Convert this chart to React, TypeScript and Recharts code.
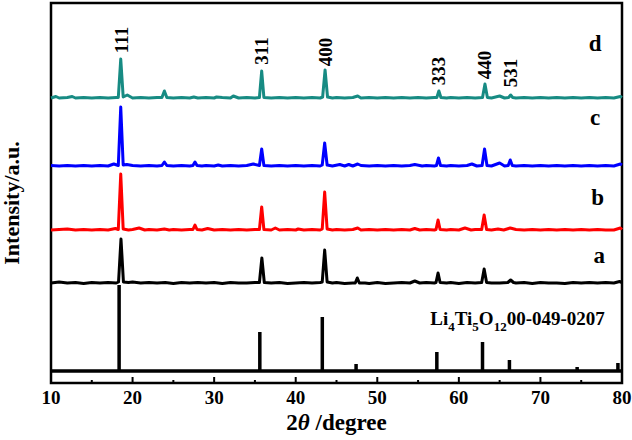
import React from "react";
import {
  LineChart,
  Line,
  XAxis,
  YAxis,
  ReferenceArea,
  ReferenceDot,
} from "recharts";

const FONT = '"Liberation Serif", "Times New Roman", serif';

// x ticks (major every 10, minor every 5)
const X_TICKS = [10, 15, 20, 25, 30, 35, 40, 45, 50, 55, 60, 65, 70, 75, 80];

// vertical offsets of the stacked patterns
const OFFSET_REF = 12;
const OFFSET_A = 99;
const OFFSET_B = 152;
const OFFSET_C = 216;
const OFFSET_D = 284;

// Li4Ti5O12 standard card 00-049-0207: [2theta, relative height]
const REF_STICKS: [number, number][] = [
  [18.35, 86], [35.6, 39], [43.26, 54], [47.4, 7], [57.3, 19],
  [62.9, 29], [66.2, 11], [74.5, 4], [79.5, 8],
];

// sample a
const SERIES_A: [number, number][] = [
  [10, 1], [11, 2], [12, 1], [13, 1.5], [14, 0.5], [15, 1.5], [16, 1], [17, 1.5], [18, 1],
  [18.28, 2], [18.58, 45], [18.88, 2], [19.5, 1.5], [20, 2], [21, 1], [22, 1.5], [23, 1],
  [24, 1.5], [25, 0.5], [26, 1.5], [27, 1], [28, 1.5], [29, 1], [30, 1.5], [31, 0.5],
  [32, 1.5], [33, 1], [34, 1], [35, 1.5], [35.55, 1.5], [35.85, 26], [36.15, 1.5], [37, 1],
  [38, 1.5], [39, 0.5], [40, 1], [41, 1.5], [42, 1], [43, 1.5], [43.25, 2], [43.55, 34],
  [43.85, 2], [44.5, 1], [45, 1.5], [46, 0.5], [47, 1], [47.3, 1], [47.55, 6], [47.8, 1],
  [48.5, 1], [49, 0.5], [50, 1.5], [51, 0.5], [52, 1], [53, 1.5], [54, 1], [54.6, 3],
  [55.2, 1], [56, 1.5], [57, 1], [57.2, 1.5], [57.45, 11], [57.7, 1.5], [58.5, 1], [59, 1.5],
  [60, 0.5], [61, 1.5], [62, 1], [62.8, 1.5], [63.1, 15], [63.4, 1.5], [64, 1], [65, 1],
  [66, 1.5], [66.35, 4], [66.7, 1.5], [67, 1], [68, 1.5], [69, 0.5], [70, 1.5], [71, 1],
  [72, 1], [73, 0.5], [74, 1.5], [75, 1], [76, 1.5], [77, 1], [78, 1.5], [79, 1],
  [79.7, 2.5], [80, 1.5],
];

// sample b
const SERIES_B: [number, number][] = [
  [10, 1], [11, 1.5], [12, 2], [13, 1], [14, 1.5], [15, 1], [16, 1.5], [17, 1], [17.9, 2.5],
  [18.25, 1.5], [18.55, 57], [18.85, 2], [19.5, 1], [20, 1.5], [20.8, 3], [21.5, 1], [22, 1.5],
  [23, 1], [23.9, 2], [24.5, 1], [25, 1.5], [26, 1], [27, 1.5], [27.4, 1.5], [27.65, 6],
  [27.9, 1.5], [28.5, 1], [29.2, 2.5], [30, 1], [31, 1.5], [32, 1], [33, 1.5], [34, 1],
  [35, 1.5], [35.55, 1.5], [35.83, 24], [36.1, 1.5], [37, 1], [37.5, 3], [38, 1], [39, 1.5],
  [40, 1], [40.3, 2], [41, 1], [42, 1.5], [43, 1], [43.25, 2], [43.55, 39], [43.85, 2],
  [44.5, 1], [45, 1.5], [46, 1], [47, 1.5], [47.6, 3], [48, 1], [49, 1.5], [50, 1], [51, 1.5],
  [52, 1], [53, 1.5], [54, 1], [54.6, 2.5], [55.2, 1], [56, 1.5], [57, 1], [57.2, 1.5],
  [57.45, 11], [57.7, 1.5], [58.5, 1], [59, 1.5], [60, 1], [60.75, 3], [61.5, 1], [62, 1.5],
  [62.8, 1.5], [63.1, 16], [63.4, 1.5], [64, 1], [64.8, 2], [65.5, 1], [66.3, 3], [67, 1.5],
  [68, 1], [69, 1.5], [70, 1], [71, 1.5], [72, 1], [73, 1.5], [74, 1], [75, 1.5], [76, 1],
  [77, 1.5], [78, 1], [79, 1], [79.8, 3], [80, 1.5],
];

// sample c
const SERIES_C: [number, number][] = [
  [10, 1.5], [11, 1], [12, 1.5], [13, 1], [14, 1.5], [15, 1], [16, 1.5], [17, 1], [17.7, 3],
  [18.25, 1.5], [18.55, 60], [18.85, 2], [19.3, 2.5], [20, 1.5], [21, 1], [22, 1.5], [23, 1],
  [23.6, 1.5], [23.9, 5], [24.2, 1.5], [25, 1], [26, 1.5], [27, 1], [27.4, 1.5], [27.65, 5],
  [27.9, 1.5], [28.5, 1], [29, 1.5], [30, 1], [30.5, 2], [31, 1], [32, 1.5], [33, 1],
  [34, 1.5], [34.8, 3], [35.55, 1.5], [35.83, 18], [36.1, 1.5], [37, 1], [38, 1.5], [39, 1],
  [40, 1.5], [41, 1], [42, 1.5], [43, 1], [43.25, 2], [43.55, 24], [43.85, 2], [44.5, 1],
  [45.4, 2.5], [46, 1], [46.5, 2.5], [47, 1], [47.6, 3], [48, 1.5], [49, 1], [50, 1.5],
  [51, 1], [52, 1.5], [53, 1], [54, 1.5], [54.6, 2.5], [55.5, 1], [56, 1.5], [57, 1],
  [57.25, 1.5], [57.5, 9], [57.75, 1.5], [58.5, 1], [59, 1.5], [60, 1], [61, 1.5], [61.6, 3],
  [62.2, 1], [62.85, 1.5], [63.15, 18], [63.45, 1.5], [64, 1], [65, 4], [65.6, 1],
  [66.05, 1.5], [66.3, 7], [66.55, 1.5], [67, 1], [68, 1.5], [69, 1], [70, 1.5], [71, 1],
  [72, 1.5], [73, 1], [74, 1.5], [75, 1], [76, 1.5], [77, 1], [78, 1.5], [79, 1],
  [79.8, 3], [80, 2],
];

// sample d
const SERIES_D: [number, number][] = [
  [10, 1], [10.6, 2.5], [11, 1], [12, 1.5], [12.6, 2.5], [13, 1], [14, 1.5], [15, 1],
  [16, 1.5], [17, 1], [18, 1.5], [18.25, 1.5], [18.55, 40], [18.85, 2], [19.35, 4], [20, 1],
  [21, 1.5], [22, 1], [23, 1.5], [23.6, 1.5], [23.9, 8], [24.2, 1.5], [25, 1], [26, 1.5],
  [27, 1], [27.5, 2], [28, 1], [29, 1.5], [30, 1], [30.3, 2], [31, 1.5], [32, 1],
  [32.35, 3], [33, 1], [34, 1.5], [35, 1], [35.55, 1.5], [35.83, 28], [36.1, 1.5], [37, 1],
  [38, 1.5], [39, 1], [40, 1.5], [41, 1], [42, 1.5], [43, 1], [43.3, 2], [43.6, 29],
  [43.9, 2], [44.5, 1], [45, 1.5], [46, 1], [47, 1.5], [47.6, 3], [48, 1], [49, 1.5],
  [50, 1], [51, 1.5], [52, 1], [53, 1.5], [54, 1], [55, 1.5], [56, 1], [57, 1.5],
  [57.3, 1.5], [57.55, 8], [57.8, 1.5], [58.5, 1], [59, 1.5], [60, 1], [61, 1.5], [62, 1],
  [62.9, 1.5], [63.2, 15], [63.5, 1.5], [64, 1], [65, 3], [65.6, 1], [66.1, 1.5], [66.35, 4],
  [66.6, 1.5], [67, 1], [68, 1.5], [69, 1], [70, 1.5], [71, 1], [72, 1.5], [73, 1],
  [74, 1.5], [75, 1], [76, 1.5], [77, 1], [78, 1.5], [79, 1], [79.8, 2.5], [80, 1.5],
];

// (hkl) labels: [text, 2theta, label centre height]
const HKL_LABELS: [string, number, number][] = [
  ["111", 18.6, 343],
  ["311", 35.85, 332],
  ["400", 43.6, 331],
  ["333", 57.55, 312],
  ["440", 63.2, 318],
  ["531", 66.35, 310],
];

// curve names: [text, x, baseline height]
const CURVE_NAMES: [string, number, number][] = [
  ["d", 76.7, 332],
  ["c", 76.7, 258],
  ["b", 77.0, 178],
  ["a", 77.2, 120],
];

const shift = (pts: [number, number][], off: number) =>
  pts.map(([x, y]) => ({ x, y: y + off }));

const refData = (() => {
  const pts: { x: number; y: number }[] = [{ x: 10, y: OFFSET_REF }];
  for (const [x, h] of REF_STICKS) {
    pts.push({ x, y: OFFSET_REF }, { x, y: OFFSET_REF + h }, { x, y: OFFSET_REF });
  }
  pts.push({ x: 80, y: OFFSET_REF });
  return pts;
})();

const series = [
  { key: "a", data: shift(SERIES_A, OFFSET_A), color: "#000000" },
  { key: "b", data: shift(SERIES_B, OFFSET_B), color: "#ff0000" },
  { key: "c", data: shift(SERIES_C, OFFSET_C), color: "#0000ff" },
  { key: "d", data: shift(SERIES_D, OFFSET_D), color: "#178b83" },
];

function XTick(props: any) {
  const { x, y, payload } = props;
  const major = payload.value % 10 === 0;
  return (
    <g>
      <line x1={x} x2={x} y1={y} y2={y - (major ? 6 : 3)} stroke="#000" strokeWidth={2} />
      {major && (
        <text x={x} y={y + 21} textAnchor="middle" fontFamily={FONT} fontWeight="bold" fontSize={19} fill="#000">
          {payload.value}
        </text>
      )}
    </g>
  );
}

export default function App() {
  return (
    <div style={{ position: "absolute", left: 0, top: 0, width: 632, height: 440, background: "#fff" }}>
      <LineChart width={632} height={440} margin={{ top: 3, right: 10, bottom: 0, left: 0 }}>
        <XAxis
          dataKey="x"
          type="number"
          domain={[10, 80]}
          ticks={X_TICKS}
          interval={0}
          height={57}
          axisLine={false}
          tickLine={false}
          tickSize={0}
          tickMargin={0}
          tick={<XTick />}
          label={{
            content: (p: any) => {
              const vb = p.viewBox;
              return (
                <text
                  x={vb.x + vb.width / 2}
                  y={vb.y + 47}
                  textAnchor="middle"
                  fontFamily={FONT}
                  fontWeight="bold"
                  fontSize={23}
                  fill="#000"
                >
                  2<tspan fontStyle="italic">θ</tspan> /degree
                </text>
              );
            },
          }}
        />
        <YAxis
          type="number"
          domain={[0, 380]}
          allowDataOverflow
          width={51}
          tick={false}
          tickLine={false}
          axisLine={false}
          label={{
            content: (p: any) => {
              const vb = p.viewBox;
              const cx = vb.x + 19;
              const cy = 203;
              return (
                <text
                  x={cx}
                  y={cy}
                  transform={`rotate(-90 ${cx} ${cy})`}
                  textAnchor="middle"
                  fontFamily={FONT}
                  fontWeight="bold"
                  fontSize={22}
                  fill="#000"
                >
                  Intensity/a.u.
                </text>
              );
            },
          }}
        />
        <Line
          data={refData}
          dataKey="y"
          stroke="#000"
          strokeWidth={3.5}
          dot={false}
          type="linear"
          strokeLinejoin="miter"
          isAnimationActive={false}
        />
        {series.map((s) => (
          <Line
            key={s.key}
            data={s.data}
            dataKey="y"
            stroke={s.color}
            strokeWidth={3}
            dot={false}
            type="linear"
            strokeLinejoin="round"
            isAnimationActive={false}
          />
        ))}
        <ReferenceArea x1={10} x2={80} y1={0} y2={380} fill="none" stroke="#000" strokeWidth={2.5} ifOverflow="visible" />
        {HKL_LABELS.map(([t, x, y]) => (
          <ReferenceDot
            key={t}
            x={x}
            y={y}
            r={0}
            ifOverflow="visible"
            shape={(p: any) => (
              <text
                x={p.cx}
                y={p.cy}
                transform={`rotate(-90 ${p.cx} ${p.cy})`}
                textAnchor="middle"
                dominantBaseline="central"
                fontFamily={FONT}
                fontWeight="bold"
                fontSize={19}
                fill="#000"
              >
                {t}
              </text>
            )}
          />
        ))}
        {CURVE_NAMES.map(([t, x, y]) => (
          <ReferenceDot
            key={t}
            x={x}
            y={y}
            r={0}
            ifOverflow="visible"
            shape={(p: any) => (
              <text x={p.cx} y={p.cy} textAnchor="middle" fontFamily={FONT} fontWeight="bold" fontSize={23} fill="#000">
                {t}
              </text>
            )}
          />
        ))}
        <ReferenceDot
          x={56.5}
          y={58}
          r={0}
          ifOverflow="visible"
          shape={(p: any) => (
            <text x={p.cx} y={p.cy} fontFamily={FONT} fontWeight="bold" fontSize={19} fill="#000">
              Li<tspan fontSize={13} dy={6}>4</tspan>
              <tspan dy={-6}>Ti</tspan>
              <tspan fontSize={13} dy={6}>5</tspan>
              <tspan dy={-6}>O</tspan>
              <tspan fontSize={13} dy={6}>12</tspan>
              <tspan dy={-6}>00-049-0207</tspan>
            </text>
          )}
        />
      </LineChart>
    </div>
  );
}
